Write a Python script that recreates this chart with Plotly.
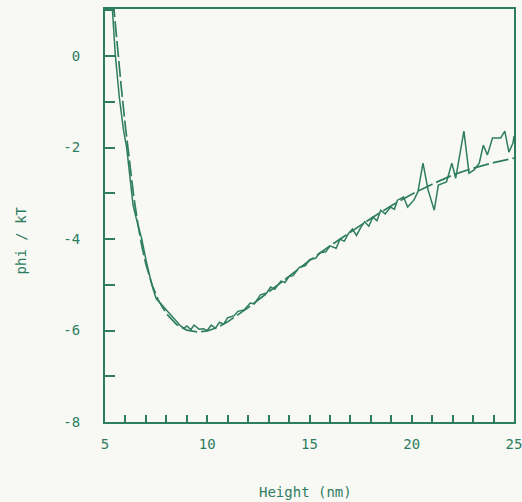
import plotly.graph_objects as go

# Fitted (dashed) curve
fit_x = [5.4, 5.6, 5.8, 6.0, 6.2, 6.4, 6.6, 6.8, 7.0, 7.3, 7.6, 8.0, 8.5, 9.0, 9.5,
         10.0, 10.5, 11.0, 12.0, 13.0, 14.0, 15.0, 16.0, 17.0, 18.0, 19.0, 20.0,
         21.0, 22.0, 23.0, 24.0, 25.0]
fit_y = [1.2, 0.2, -0.7, -1.55, -2.35, -3.05, -3.65, -4.15, -4.55, -5.0, -5.33, -5.63,
         -5.87, -5.99, -6.03, -6.01, -5.93, -5.81, -5.5, -5.15, -4.8, -4.47, -4.15,
         -3.85, -3.55, -3.27, -3.02, -2.8, -2.6, -2.45, -2.33, -2.23]

# Measured (noisy) curve
meas_x = [5.35, 5.5, 5.7, 5.9, 6.06, 6.2, 6.37, 6.5, 6.65, 6.8, 7.0, 7.29, 7.5, 7.7, 8.0,
          8.3, 8.5, 8.7, 8.85, 9.0, 9.2, 9.35, 9.6, 9.8, 10.0, 10.2, 10.4, 10.6, 10.8,
          11.0, 11.3, 11.5, 11.8, 12.1, 12.3, 12.6, 12.9, 13.1, 13.3, 13.6, 13.8, 14.0,
          14.2, 14.5, 14.8, 15.0, 15.3, 15.5, 15.8, 16.0, 16.3, 16.5, 16.7, 16.9, 17.1,
          17.3, 17.5, 17.7, 17.9, 18.1, 18.3, 18.48, 18.7, 18.97, 19.15, 19.3, 19.6,
          19.8, 20.1, 20.3, 20.55, 20.8, 21.1, 21.3, 21.7, 21.96, 22.15, 22.55, 22.8,
          23.05, 23.3, 23.5, 23.7, 23.95, 24.35, 24.55, 24.75, 24.95, 25.0]
meas_y = [1.1, 0.05, -0.9, -1.6, -2.0, -2.6, -3.25, -3.5, -3.75, -4.0, -4.45, -5.0, -5.3,
          -5.4, -5.55, -5.72, -5.8, -5.9, -5.95, -5.9, -5.98, -5.88, -5.97, -5.96, -6.0,
          -5.88, -5.95, -5.82, -5.86, -5.72, -5.68, -5.58, -5.55, -5.4, -5.42, -5.22,
          -5.18, -5.05, -5.1, -4.92, -4.95, -4.82, -4.8, -4.62, -4.58, -4.45, -4.42,
          -4.3, -4.28, -4.15, -4.2, -4.0, -4.05, -3.88, -3.78, -3.92, -3.75, -3.62,
          -3.72, -3.52, -3.6, -3.37, -3.45, -3.3, -3.35, -3.15, -3.08, -3.3, -3.15,
          -2.97, -2.34, -2.93, -3.37, -2.82, -2.75, -2.34, -2.67, -1.64, -2.56, -2.49,
          -2.34, -1.95, -2.16, -1.79, -1.79, -1.64, -2.1, -1.9, -1.75]

x_ticks = [5, 10, 15, 20, 25]
y_ticks = [-8, -6, -4, -2, 0]

green = "#2e7d62"
bg = "#f8f9f4"
font = dict(family="DejaVu Sans Mono", size=14, color=green)

fig = go.Figure()
fig.add_trace(go.Scatter(x=fit_x, y=fit_y, mode="lines",
                         line=dict(color=green, width=1.7, dash="16px,4px"),
                         hoverinfo="skip"))
fig.add_trace(go.Scatter(x=meas_x, y=meas_y, mode="lines",
                         line=dict(color=green, width=1.5),
                         hoverinfo="skip"))

fig.update_layout(
    width=522, height=502,
    margin=dict(l=105, r=8, t=9, b=80, autoexpand=False),
    paper_bgcolor=bg, plot_bgcolor=bg,
    showlegend=False,
    font=font,
    xaxis=dict(range=[5, 25], tickvals=x_ticks, ticktext=[str(v) for v in x_ticks],
               ticks="inside", ticklen=7, tickwidth=1.5, tickcolor=green,
               minor=dict(dtick=1, ticks="inside", ticklen=7, tickwidth=1.5, tickcolor=green),
               showline=True, linecolor=green, linewidth=2, mirror=True,
               showgrid=False, zeroline=False, ticklabelstandoff=8, automargin=False,
               ticklabeloverflow="allow"),
    yaxis=dict(range=[-8, 1.03], tickvals=y_ticks, ticktext=[str(v) for v in y_ticks],
               ticks="inside", ticklen=10, tickwidth=1.5, tickcolor=green,
               minor=dict(dtick=1, ticks="inside", ticklen=10, tickwidth=1.5, tickcolor=green),
               showline=True, linecolor=green, linewidth=2, mirror=True,
               showgrid=False, zeroline=False, ticklabelstandoff=20, automargin=False),
    annotations=[
        dict(text="Height (nm)", xref="paper", yref="paper", x=0.49, y=-0.17,
             showarrow=False, xanchor="center", yanchor="middle", font=font),
        dict(text="phi / kT", xref="paper", yref="paper", x=-0.205, y=0.44,
             showarrow=False, xanchor="center", yanchor="middle", textangle=-90, font=font),
    ],
)

fig.write_html("out.html")
